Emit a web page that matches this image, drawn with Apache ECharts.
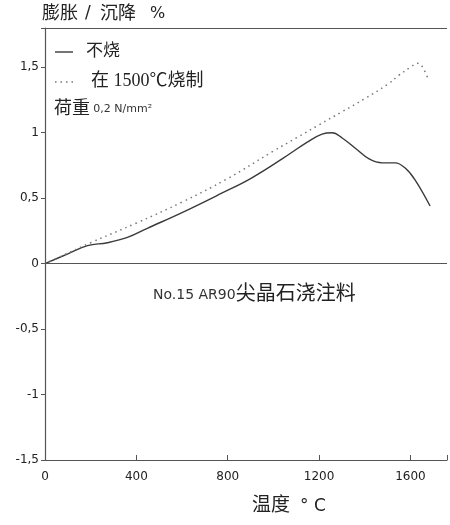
<!DOCTYPE html>
<html>
<head>
<meta charset="utf-8">
<script src="https://cdn.jsdelivr.net/npm/echarts@6/dist/echarts.min.js"></script>
<style>
  html, body { margin: 0; padding: 0; background: #fff; }
  #chart { width: 450px; height: 525px; }
</style>
</head>
<body>
<div id="chart"></div>
<script>
// Temperature (°C) and expansion / shrinkage (%) under load, unfired sample
const unfiredTemp = [0, 100, 186, 273, 361, 448, 600, 776, 900, 1038, 1150, 1213, 1257, 1301, 1360, 1419, 1476, 1533, 1577, 1620, 1686];
const unfiredValue = [0, 0.075, 0.138, 0.16, 0.20, 0.27, 0.39, 0.54, 0.65, 0.80, 0.93, 0.99, 1.0, 0.96, 0.88, 0.80, 0.77, 0.77, 0.73, 0.64, 0.44];

// Sample pre-fired at 1500 °C
const firedTemp = [0, 100, 200, 400, 600, 800, 1000, 1100, 1200, 1300, 1400, 1500, 1550, 1600, 1630, 1650, 1675];
const firedValue = [0, 0.08, 0.16, 0.31, 0.47, 0.65, 0.86, 0.96, 1.06, 1.16, 1.26, 1.37, 1.44, 1.50, 1.53, 1.51, 1.42];

const xTicks = [0, 400, 800, 1200, 1600];
const yTicks = [-1.5, -1, -0.5, 0, 0.5, 1, 1.5];

const seriesNames = ['不烧', '在 1500℃烧制'];
const yAxisTitle = ['膨胀', '/', '沉降', '%'];
const xAxisTitle = ['温度', '° C'];
const loadNote = ['荷重', '0,2 N/mm²'];
const materialNote = ['No.15 AR90', '尖晶石浇注料'];

const pairs = (xs, ys) => xs.map((x, i) => [x, ys[i]]);
const cjk = '"Liberation Serif", "Noto Sans CJK SC", serif';
const sans = '"DejaVu Sans", "Liberation Sans", sans-serif';

const solidStyle = { color: '#3a3a3a', width: 1.4 };
const dottedStyle = { color: '#777', width: 1.5, type: [1.5, 4] };

const chart = echarts.init(document.getElementById('chart'));
chart.setOption({
  animation: false,
  grid: { left: 45, right: 0, top: 28, bottom: 65 },
  xAxis: {
    type: 'value', min: 0, max: 1760, interval: 400,
    axisLine: { show: true, onZero: false, lineStyle: { color: '#555', width: 1.2 } },
    axisTick: { show: true, inside: true, length: 5, lineStyle: { color: '#555' } },
    axisLabel: { color: '#222', fontFamily: sans, fontSize: 12, margin: 11,
      formatter: v => xTicks.includes(v) ? String(v) : '' },
    splitLine: { show: false }
  },
  yAxis: {
    type: 'value', min: -1.5, max: 1.8, interval: 0.5,
    axisLine: { show: true, onZero: false, lineStyle: { color: '#555', width: 1.2 } },
    axisTick: { show: true, inside: false, length: 4, lineStyle: { color: '#555' } },
    axisLabel: { color: '#222', fontFamily: sans, fontSize: 12, margin: 6,
      formatter: v => yTicks.some(t => Math.abs(t - v) < 1e-6) ? String(v).replace('.', ',') : '' },
    splitLine: { show: false }
  },
  series: [
    {
      name: seriesNames[0], type: 'line', data: pairs(unfiredTemp, unfiredValue),
      smooth: 0.4, symbol: 'none',
      lineStyle: solidStyle,
      markLine: {
        silent: true, symbol: 'none', label: { show: false },
        lineStyle: { color: '#555', width: 1.2, type: 'solid' },
        data: [{ yAxis: 0 }, { yAxis: 1.8 }]
      }
    },
    {
      name: seriesNames[1], type: 'line', data: pairs(firedTemp, firedValue),
      smooth: 0.4, symbol: 'none',
      lineStyle: dottedStyle
    }
  ],
  graphic: [
    // axis titles
    { type: 'text', left: 42, top: 5, style: { text: yAxisTitle[0], font: '18px ' + cjk, fill: '#222' } },
    { type: 'text', left: 85, top: 5, style: { text: yAxisTitle[1], font: '17px ' + sans, fill: '#222' } },
    { type: 'text', left: 100, top: 5, style: { text: yAxisTitle[2], font: '18px ' + cjk, fill: '#222' } },
    { type: 'text', left: 150, top: 6, style: { text: yAxisTitle[3], font: '16px ' + sans, fill: '#222' } },
    { type: 'text', left: 252, top: 497,
      style: {
        text: '{a|' + xAxisTitle[0] + '}{b|' + xAxisTitle[1] + '}',
        rich: {
          a: { fontFamily: cjk, fontSize: 19, fill: '#222' },
          b: { fontFamily: sans, fontSize: 17, fill: '#222', padding: [0, 0, 0, 10] }
        }
      } },
    // legend
    { type: 'line', shape: { x1: 55, y1: 52, x2: 73, y2: 52 }, style: { stroke: solidStyle.color, lineWidth: 1.4 } },
    { type: 'text', left: 86, top: 43, style: { text: seriesNames[0], font: '17px ' + cjk, fill: '#222' } },
    { type: 'line', shape: { x1: 55, y1: 82, x2: 73, y2: 82 },
      style: { stroke: dottedStyle.color, lineWidth: 1.5, lineDash: [1.5, 4] } },
    { type: 'text', left: 91, top: 72, style: { text: seriesNames[1], font: '18px ' + cjk, fill: '#222' } },
    { type: 'text', left: 54, top: 100,
      style: {
        text: '{a|' + loadNote[0] + '} {b|' + loadNote[1] + '}',
        rich: {
          a: { fontFamily: cjk, fontSize: 18, fill: '#222' },
          b: { fontFamily: sans, fontSize: 11, fill: '#333' }
        }
      } },
    // material label
    { type: 'text', left: 153, top: 285,
      style: {
        text: '{a|' + materialNote[0] + '}{b|' + materialNote[1] + '}',
        rich: {
          a: { fontFamily: sans, fontSize: 14, fill: '#333' },
          b: { fontFamily: cjk, fontSize: 20, fill: '#222' }
        }
      } }
  ]
});
</script>
</body>
</html>
